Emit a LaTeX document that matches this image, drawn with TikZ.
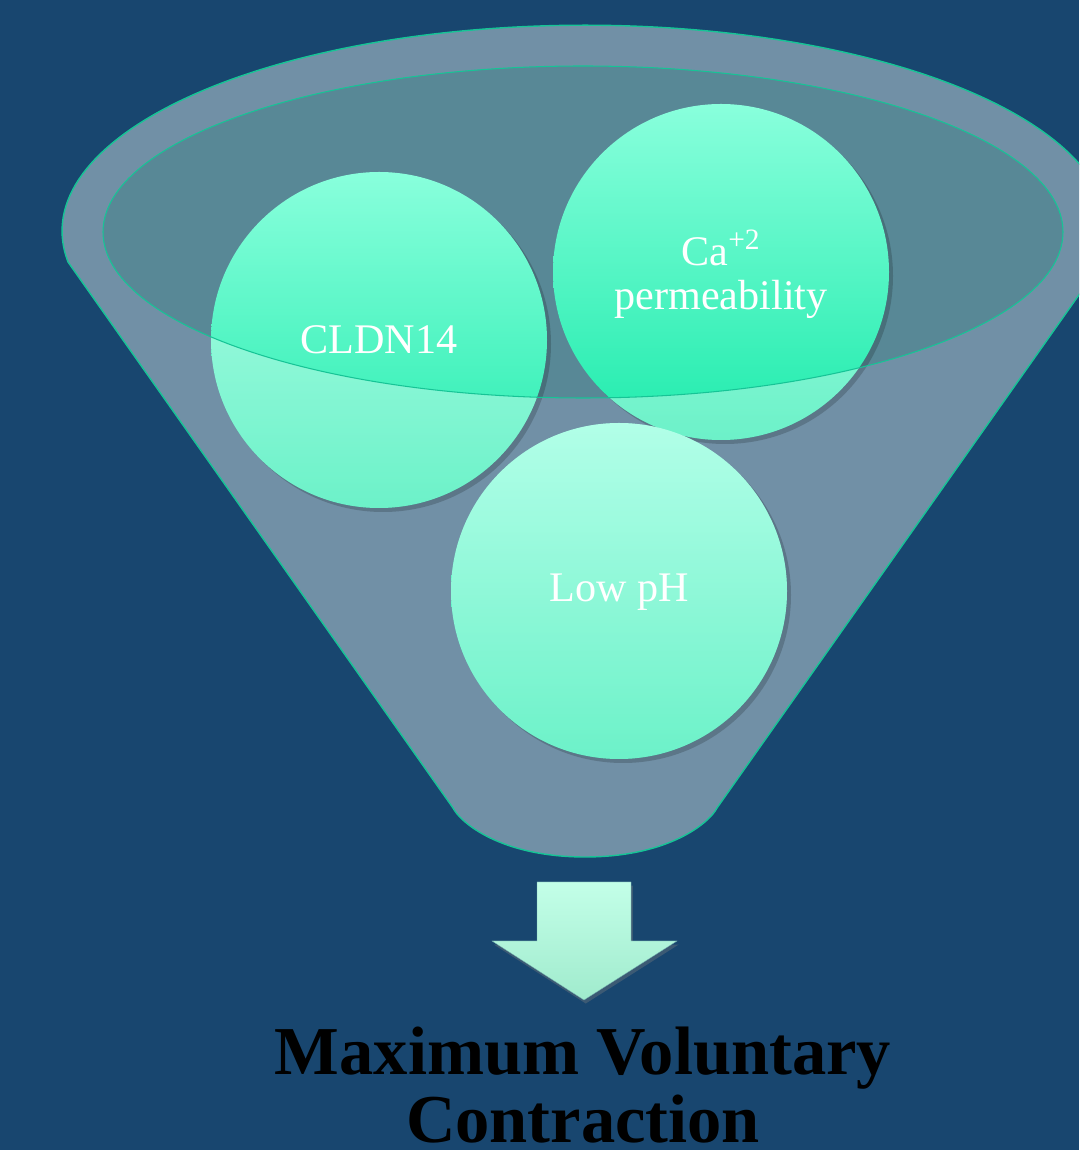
\documentclass[tikz,border=0pt]{standalone}
\usepackage{fontspec}
\setmainfont{Liberation Serif}
\usetikzlibrary{shadows}
\definecolor{bgblue}{RGB}{24,70,111}
\definecolor{funnelfill}{RGB}{113,144,166}
\definecolor{rimteal}{RGB}{22,196,150}
\definecolor{mouthfill}{RGB}{88,136,150}
\definecolor{minttop}{RGB}{137,255,220}
\definecolor{mintbot}{RGB}{30,235,172}
\definecolor{arrowtop}{RGB}{195,255,232}
\definecolor{arrowbot}{RGB}{160,235,205}
\definecolor{arrowedge}{RGB}{110,170,170}
\tikzset{
	bubble/.style={top color=minttop,bottom color=mintbot},
	bubblelabel/.style={text=white,align=center,font=\fontsize{24}{25}\selectfont},
}

\begin{document}
\begin{tikzpicture}[x=0.02cm,y=0.02cm]
	\useasboundingbox (0,0) rectangle (1079,1150);
	\fill[bgblue] (0,0) rectangle (1079,1150);
	\clip (0,0) rectangle (1079,1150);
	\draw[rimteal,thick,fill=funnelfill] (453,342) -- (68,888)
		arc[start angle=188.6,end angle=-8.6,x radius=523,y radius=206] -- (717,342)
		.. controls (710,328) and (670,293) .. (585,293)
		.. controls (500,293) and (460,328) .. (453,342) -- cycle;
	\fill[mouthfill] (583,918) ellipse[x radius=480,y radius=166];
	\foreach \cx/\cy in {379/810,721/878,619/559}{
		\fill[black,opacity=0.18] (\cx+4,\cy-4) circle (168);
		\shade[bubble] (\cx,\cy) circle (168);
		\begin{scope}
			\clip (\cx,\cy) circle (168);
			\fill[white,fill opacity=0.35,even odd rule] (0,0) rectangle (1079,1150)
				(583,918) ellipse[x radius=480,y radius=166];
		\end{scope}
	}
	\draw[rimteal,semithick] (583,918) ellipse[x radius=480,y radius=166];
	\node[bubblelabel] (cldn) at (379,810) {CLDN14};
	\node[bubblelabel] (calcium) at (721,876) {Ca\textsuperscript{+2}\\permeability};
	\node[bubblelabel] (lowph) at (619,558) {Low pH};
	\draw[draw=arrowedge,very thin,top color=arrowtop,bottom color=arrowbot,
		drop shadow={opacity=0.35,shadow xshift=1pt,shadow yshift=-2pt}]
		(537,268) -- (631,268) -- (631,209) -- (677,209) -- (584,150) -- (492,209) -- (537,209) -- cycle;
	\node[font=\bfseries\fontsize{39}{38.5}\selectfont,align=center,anchor=north,inner sep=0pt] (mvc)
		at (583,123) {Maximum Voluntary\\Contraction};
\end{tikzpicture}
\end{document}
